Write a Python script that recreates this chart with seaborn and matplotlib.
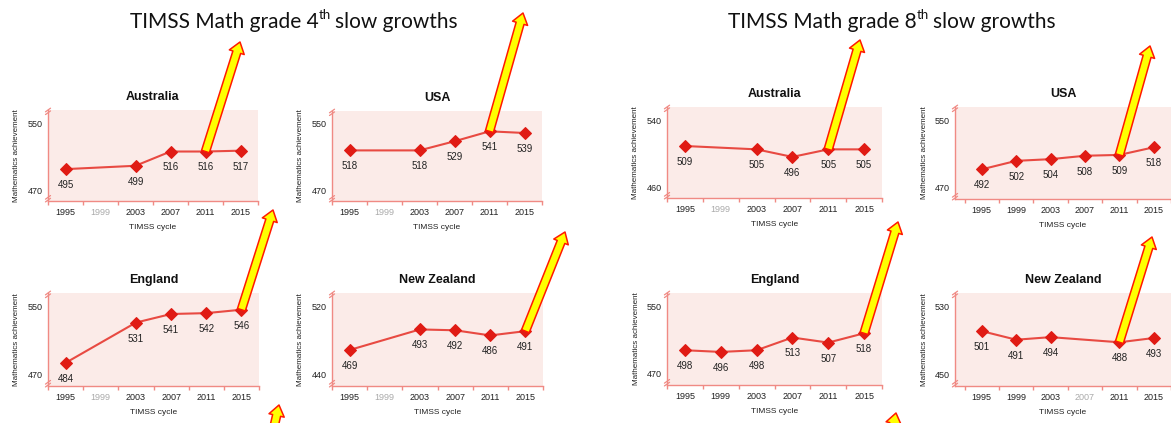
import numpy as np
import pandas as pd
import matplotlib
matplotlib.use("Agg")
import matplotlib.pyplot as plt
import seaborn as sns

sns.set_theme(style="white")
plt.rcParams["font.family"] = ["Liberation Sans", "DejaVu Sans"]

# ---------------- data ----------------
YEARS = ["1995", "1999", "2003", "2007", "2011", "2015"]

aus4 = [495, None, 499, 516, 516, 517]
usa4 = [518, None, 518, 529, 541, 539]
eng4 = [484, None, 531, 541, 542, 546]
nzl4 = [469, None, 493, 492, 486, 491]

aus8 = [509, None, 505, 496, 505, 505]
usa8 = [492, 502, 504, 508, 509, 518]
eng8 = [498, 496, 498, 513, 507, 518]
nzl8 = [501, 491, 494, None, 488, 493]

COUNTRIES = ["Australia", "USA", "England", "New Zealand",
             "Australia", "USA", "England", "New Zealand"]
SERIES = [aus4, usa4, eng4, nzl4, aus8, usa8, eng8, nzl8]
YTICKS = [(470, 550), (470, 550), (470, 550), (440, 520),
          (460, 540), (470, 550), (470, 550), (450, 530)]
ARROW_FROM = ["2011", "2011", "2015", "2015", "2011", "2011", "2015", "2011"]
TITLES = ["TIMSS Math grade 4", "TIMSS Math grade 8"]

# ---------------- layout (pixels) ----------------
W, H = 1171, 423
fig = plt.figure(figsize=(W / 100, H / 100), dpi=100)
fig.patch.set_facecolor("white")

# (left, top, right, bottom) in pixels from top-left
BOXES = [(48, 110, 258, 201), (332, 111, 542, 201),
         (48, 293, 259, 386), (332, 293, 543, 386),
         (667, 107, 882, 198), (955, 107, 1171, 199),
         (667, 293, 882, 385), (955, 293, 1171, 386)]
XLIMS = [(-0.5, 5.5)] * 5 + [(-0.78, 5.5), (-0.5, 5.5), (-0.78, 5.5)]
TIPS = [(240, 42), (523, 13), (273, 210), (565, 232),
        (860, 40), (1150, 46), (898, 222), (1152, 237)]

LINE_C = "#e84a42"
MARK_C = "#e01b14"
SPINE_C = "#f08a84"
FACE_C = "#fbebe8"

for k in range(8):
    l, t, r, b = BOXES[k]
    ax = fig.add_axes([l / W, 1 - b / H, (r - l) / W, (b - t) / H])
    ax.set_facecolor(FACE_C)
    vals = SERIES[k]
    df = pd.DataFrame({"pos": np.arange(len(YEARS)), "year": YEARS,
                       "score": [np.nan if v is None else v for v in vals]})
    df = df.dropna()
    sns.lineplot(data=df, x="pos", y="score", ax=ax, color=LINE_C,
                 linewidth=1.5, marker="D", markersize=6.5,
                 markerfacecolor=MARK_C, markeredgecolor=MARK_C, zorder=3)
    lo, hi = YTICKS[k]
    ax.set_ylim(lo - 13, lo + 95.5)
    ax.set_xlim(*XLIMS[k])
    for _, row in df.iterrows():
        ax.annotate(f"{int(row.score)}", (row.pos, row.score),
                    xytext=(0, -11.5), textcoords="offset points",
                    ha="center", va="center", fontsize=7, color="#222222")
    ax.set_xticks(range(len(YEARS)))
    ax.set_xticklabels(YEARS, fontsize=6.5)
    missing = [i for i, v in enumerate(vals) if v is None]
    for i, lab in enumerate(ax.get_xticklabels()):
        lab.set_color("#aaaaaa" if i in missing else "#222222")
    ax.set_xticks(np.arange(-0.5, 5.6, 1.0), minor=True)
    ax.tick_params(axis="x", which="major", length=0, pad=5)
    ax.tick_params(axis="x", which="minor", length=3, color=SPINE_C,
                   direction="out", bottom=True)
    ax.set_yticks([lo, hi])
    ax.set_yticklabels([str(lo), str(hi)], fontsize=6.5, color="#222222")
    ax.tick_params(axis="y", length=0, pad=4)
    for s in ["top", "right"]:
        ax.spines[s].set_visible(False)
    for s in ["left", "bottom"]:
        ax.spines[s].set_color(SPINE_C)
        ax.spines[s].set_linewidth(1.0)
    ax.set_xlabel("TIMSS cycle", fontsize=6, color="#222222", labelpad=5)
    ax.set_ylabel("Mathematics achievement", fontsize=5.8, color="#222222",
                  labelpad=5)
    ax.set_title(COUNTRIES[k], fontsize=9, fontweight="bold", pad=7,
                 color="#111111")
    ax.grid(False)
    # axis break marks on the y axis
    for yb in (1.0, 0.04):
        for dy in (0.0, -0.03):
            ax.plot([-0.012, 0.012], [yb + dy - 0.02, yb + dy + 0.02],
                    transform=ax.transAxes, color=SPINE_C, lw=0.9,
                    clip_on=False)
    # highlight arrow
    i = YEARS.index(ARROW_FROM[k])
    tx, ty = TIPS[k]
    ax.annotate("", xy=(tx, H - ty), xycoords="figure pixels",
                xytext=(i, vals[i]), textcoords="data",
                annotation_clip=False, zorder=10,
                arrowprops=dict(arrowstyle="simple,head_length=0.55,head_width=0.8,tail_width=0.42",
                                mutation_scale=14, fc="#ffff00", ec="#ff1a00",
                                lw=1.1, shrinkA=0, shrinkB=0))

# small clipped arrow fragments at the bottom edge
for (x0, y0, x1, y1) in [(271, 440, 279, 405), (889, 445, 896, 413)]:
    fig.add_artist(matplotlib.patches.FancyArrowPatch(
        (x0, H - y0), (x1, H - y1), transform=None,
        arrowstyle="simple,head_length=0.55,head_width=0.8,tail_width=0.42",
        mutation_scale=14, fc="#ffff00", ec="#ff1a00", lw=1.1,
        shrinkA=0, shrinkB=0))

# main titles with superscript "th"
fig.canvas.draw()
renderer = fig.canvas.get_renderer()
for x_start, title in zip([130, 728], TITLES):
    t1 = fig.text(x_start / W, 1 - 28 / H, title, fontsize=15,
                  family=["Lato", "DejaVu Sans"], va="baseline", ha="left",
                  color="#111111")
    bb = t1.get_window_extent(renderer)
    t2 = fig.text(bb.x1 / W, 1 - 19 / H, "th", fontsize=9.5,
                  family=["Lato", "DejaVu Sans"], va="baseline", ha="left",
                  color="#111111")
    bb2 = t2.get_window_extent(renderer)
    fig.text((bb2.x1 + 4) / W, 1 - 28 / H, "slow growths", fontsize=15,
             family=["Lato", "DejaVu Sans"], va="baseline", ha="left",
             color="#111111")

fig.savefig("out.png", dpi=100)
